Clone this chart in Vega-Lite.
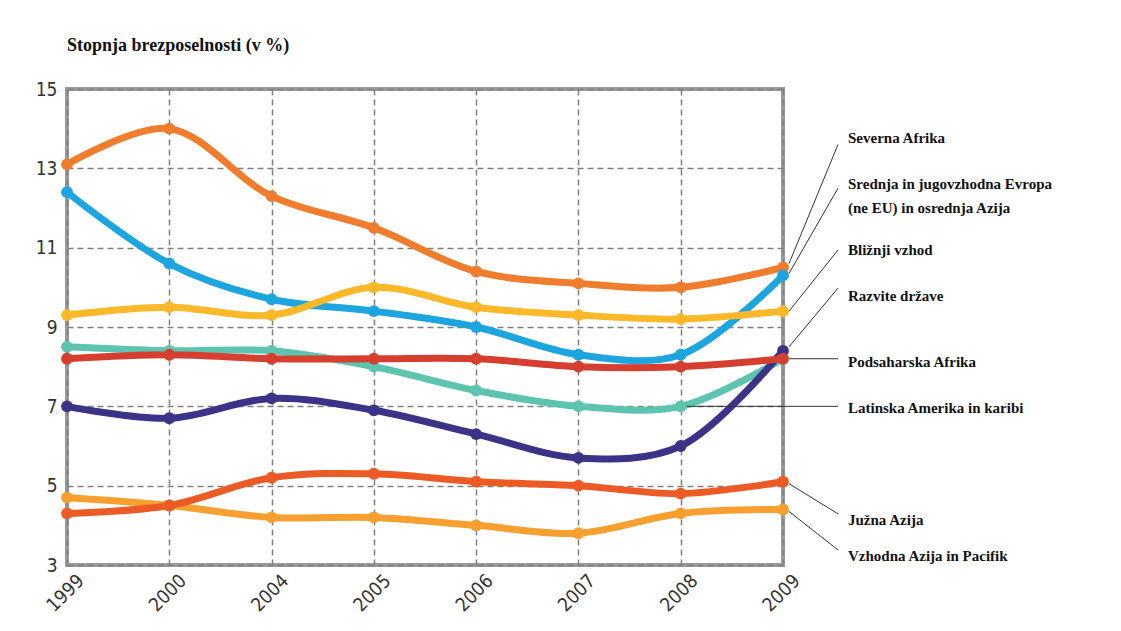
{
  "$schema": "https://vega.github.io/schema/vega-lite/v6.json",
  "width": 716,
  "height": 476,
  "autosize": "none",
  "padding": {"left": 67, "top": 89, "right": 338, "bottom": 66},
  "background": "white",
  "title": {
    "text": "Stopnja brezposelnosti (v %)",
    "anchor": "start",
    "frame": "group",
    "offset": 25,
    "font": "Liberation Serif",
    "fontSize": 18,
    "fontWeight": "bold",
    "color": "#111111"
  },
  "config": {
    "view": {"stroke": "#999999", "strokeWidth": 4},
    "axis": {
      "domain": false,
      "ticks": false,
      "grid": true,
      "gridColor": "#808080",
      "gridDash": [6, 4],
      "gridWidth": 1.5,
      "labelFont": "Liberation Sans Narrow, DejaVu Sans Condensed, sans-serif",
      "labelFontSize": 19,
      "labelColor": "#333333",
      "title": null
    }
  },
  "datasets": {
    "series": [
      {"region": "Severna Afrika", "year": "1999", "value": 13.1},
      {"region": "Severna Afrika", "year": "2000", "value": 14.0},
      {"region": "Severna Afrika", "year": "2004", "value": 12.3},
      {"region": "Severna Afrika", "year": "2005", "value": 11.5},
      {"region": "Severna Afrika", "year": "2006", "value": 10.4},
      {"region": "Severna Afrika", "year": "2007", "value": 10.1},
      {"region": "Severna Afrika", "year": "2008", "value": 10.0},
      {"region": "Severna Afrika", "year": "2009", "value": 10.5},
      {"region": "Srednja in jugovzhodna Evropa (ne EU) in osrednja Azija", "year": "1999", "value": 12.4},
      {"region": "Srednja in jugovzhodna Evropa (ne EU) in osrednja Azija", "year": "2000", "value": 10.6},
      {"region": "Srednja in jugovzhodna Evropa (ne EU) in osrednja Azija", "year": "2004", "value": 9.7},
      {"region": "Srednja in jugovzhodna Evropa (ne EU) in osrednja Azija", "year": "2005", "value": 9.4},
      {"region": "Srednja in jugovzhodna Evropa (ne EU) in osrednja Azija", "year": "2006", "value": 9.0},
      {"region": "Srednja in jugovzhodna Evropa (ne EU) in osrednja Azija", "year": "2007", "value": 8.3},
      {"region": "Srednja in jugovzhodna Evropa (ne EU) in osrednja Azija", "year": "2008", "value": 8.3},
      {"region": "Srednja in jugovzhodna Evropa (ne EU) in osrednja Azija", "year": "2009", "value": 10.3},
      {"region": "Bližnji vzhod", "year": "1999", "value": 9.3},
      {"region": "Bližnji vzhod", "year": "2000", "value": 9.5},
      {"region": "Bližnji vzhod", "year": "2004", "value": 9.3},
      {"region": "Bližnji vzhod", "year": "2005", "value": 10.0},
      {"region": "Bližnji vzhod", "year": "2006", "value": 9.5},
      {"region": "Bližnji vzhod", "year": "2007", "value": 9.3},
      {"region": "Bližnji vzhod", "year": "2008", "value": 9.2},
      {"region": "Bližnji vzhod", "year": "2009", "value": 9.4},
      {"region": "Latinska Amerika in karibi", "year": "1999", "value": 8.5},
      {"region": "Latinska Amerika in karibi", "year": "2000", "value": 8.4},
      {"region": "Latinska Amerika in karibi", "year": "2004", "value": 8.4},
      {"region": "Latinska Amerika in karibi", "year": "2005", "value": 8.0},
      {"region": "Latinska Amerika in karibi", "year": "2006", "value": 7.4},
      {"region": "Latinska Amerika in karibi", "year": "2007", "value": 7.0},
      {"region": "Latinska Amerika in karibi", "year": "2008", "value": 7.0},
      {"region": "Latinska Amerika in karibi", "year": "2009", "value": 8.2},
      {"region": "Razvite države", "year": "1999", "value": 7.0},
      {"region": "Razvite države", "year": "2000", "value": 6.7},
      {"region": "Razvite države", "year": "2004", "value": 7.2},
      {"region": "Razvite države", "year": "2005", "value": 6.9},
      {"region": "Razvite države", "year": "2006", "value": 6.3},
      {"region": "Razvite države", "year": "2007", "value": 5.7},
      {"region": "Razvite države", "year": "2008", "value": 6.0},
      {"region": "Razvite države", "year": "2009", "value": 8.4},
      {"region": "Podsaharska Afrika", "year": "1999", "value": 8.2},
      {"region": "Podsaharska Afrika", "year": "2000", "value": 8.3},
      {"region": "Podsaharska Afrika", "year": "2004", "value": 8.2},
      {"region": "Podsaharska Afrika", "year": "2005", "value": 8.2},
      {"region": "Podsaharska Afrika", "year": "2006", "value": 8.2},
      {"region": "Podsaharska Afrika", "year": "2007", "value": 8.0},
      {"region": "Podsaharska Afrika", "year": "2008", "value": 8.0},
      {"region": "Podsaharska Afrika", "year": "2009", "value": 8.2},
      {"region": "Vzhodna Azija in Pacifik", "year": "1999", "value": 4.7},
      {"region": "Vzhodna Azija in Pacifik", "year": "2000", "value": 4.5},
      {"region": "Vzhodna Azija in Pacifik", "year": "2004", "value": 4.2},
      {"region": "Vzhodna Azija in Pacifik", "year": "2005", "value": 4.2},
      {"region": "Vzhodna Azija in Pacifik", "year": "2006", "value": 4.0},
      {"region": "Vzhodna Azija in Pacifik", "year": "2007", "value": 3.8},
      {"region": "Vzhodna Azija in Pacifik", "year": "2008", "value": 4.3},
      {"region": "Vzhodna Azija in Pacifik", "year": "2009", "value": 4.4},
      {"region": "Južna Azija", "year": "1999", "value": 4.3},
      {"region": "Južna Azija", "year": "2000", "value": 4.5},
      {"region": "Južna Azija", "year": "2004", "value": 5.2},
      {"region": "Južna Azija", "year": "2005", "value": 5.3},
      {"region": "Južna Azija", "year": "2006", "value": 5.1},
      {"region": "Južna Azija", "year": "2007", "value": 5.0},
      {"region": "Južna Azija", "year": "2008", "value": 4.8},
      {"region": "Južna Azija", "year": "2009", "value": 5.1}
    ],
    "labels": [
      {"label": "Severna Afrika", "start": "2009", "from": 10.6, "to": 13.6, "labelY": 13.76},
      {"label": "Srednja in jugovzhodna Evropa\n(ne EU) in osrednja Azija", "start": "2009", "from": 10.35, "to": 12.5, "labelY": 12.6},
      {"label": "Bližnji vzhod", "start": "2009", "from": 9.4, "to": 10.94, "labelY": 10.94},
      {"label": "Razvite države", "start": "2009", "from": 8.5, "to": 9.98, "labelY": 9.78},
      {"label": "Podsaharska Afrika", "start": "2009", "from": 8.2, "to": 8.2, "labelY": 8.12},
      {"label": "Latinska Amerika in karibi", "start": "2008", "from": 7.0, "to": 7.0, "labelY": 6.96},
      {"label": "Južna Azija", "start": "2009", "from": 5.05, "to": 4.29, "labelY": 4.14},
      {"label": "Vzhodna Azija in Pacifik", "start": "2009", "from": 4.35, "to": 3.38, "labelY": 3.23}
    ]
  },
  "layer": [
    {
      "data": {"name": "series"},
      "mark": {
        "type": "line",
        "interpolate": "catmull-rom",
        "strokeWidth": 7,
        "point": {"filled": true, "size": 140, "opacity": 1}
      },
      "encoding": {
        "x": {
          "field": "year",
          "type": "ordinal",
          "scale": {"type": "point", "padding": 0, "domain": ["1999", "2000", "2004", "2005", "2006", "2007", "2008", "2009"]},
          "axis": {"labelAngle": -45, "labelPadding": 6, "labelOffset": 7}
        },
        "y": {
          "field": "value",
          "type": "quantitative",
          "scale": {"domain": [3, 15], "nice": false, "zero": false},
          "axis": {"values": [3, 5, 7, 9, 11, 13, 15], "labelPadding": 10}
        },
        "color": {
          "field": "region",
          "type": "nominal",
          "legend": null,
          "scale": {
            "domain": [
              "Severna Afrika",
              "Srednja in jugovzhodna Evropa (ne EU) in osrednja Azija",
              "Bližnji vzhod",
              "Latinska Amerika in karibi",
              "Razvite države",
              "Podsaharska Afrika",
              "Vzhodna Azija in Pacifik",
              "Južna Azija"
            ],
            "range": ["#ef7d2d", "#1da5e0", "#fbb829", "#5dc4b0", "#3b3387", "#d63f2f", "#f7a030", "#ec5b25"]
          }
        }
      }
    },
    {
      "data": {"name": "labels"},
      "mark": {"type": "rule", "color": "#333333", "strokeWidth": 1, "xOffset": 6, "x2Offset": 55},
      "encoding": {
        "x": {"field": "start", "type": "ordinal"},
        "x2": {"datum": "2009"},
        "y": {"field": "from", "type": "quantitative"},
        "y2": {"field": "to"}
      }
    },
    {
      "data": {"name": "labels"},
      "mark": {
        "type": "text",
        "align": "left",
        "baseline": "middle",
        "dx": 65,
        "font": "Liberation Serif",
        "fontSize": 15,
        "fontWeight": "bold",
        "color": "#111111",
        "lineBreak": "\n",
        "lineHeight": 24
      },
      "encoding": {
        "x": {"datum": "2009"},
        "y": {"field": "labelY", "type": "quantitative"},
        "text": {"field": "label"}
      }
    }
  ]
}
